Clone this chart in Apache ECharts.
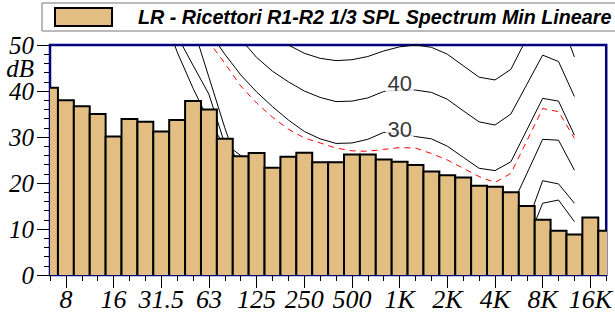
<!DOCTYPE html>
<html><head><meta charset="utf-8">
<script src="https://cdn.jsdelivr.net/npm/echarts@6/dist/echarts.min.js"></script>
<style>html,body{margin:0;padding:0;background:#fff}#c{width:615px;height:322px}</style>
</head><body><div id="c"></div>
<script>
// 1/3 octave bands 6.3 Hz .. 20 kHz
const bandLabels = ['6.3','8','10','12.5','16','20','25','31.5','40','50','63','80','100','125','160','200','250','315','400','500','630','800','1K','1.25K','1.6K','2K','2.5K','3.15K','4K','5K','6.3K','8K','10K','12.5K','16K','20K'];
const tickLabels = ['8','16','31.5','63','125','250','500','1K','2K','4K','8K','16K'];
const seriesName = 'LR - Ricettori R1-R2 1/3 SPL Spectrum Min Lineare';
const levels = [40.7, 38.0, 36.7, 35.0, 30.1, 33.9, 33.3, 31.2, 33.7, 37.8, 36.0, 29.6, 25.8, 26.5, 23.3, 25.7, 26.6, 24.5, 24.5, 26.2, 26.2, 25.1, 24.6, 23.9, 22.5, 21.7, 21.2, 19.4, 19.2, 18.0, 15.0, 12.0, 9.6, 8.8, 12.5, 9.6];
const yTicks = [0, 10, 20, 30, 40, 50];
const yUnit = 'dB';
const yUnitAt = 45;
// equal-loudness style contours, 20 Hz .. 12.5 kHz
const contourFirstBand = '20';
const curve50 = [100, 94, 88, 82, 76, 70, 65, 60.5, 57, 53, 50.0, 48.2, 47.1, 46.6, 46.8, 47.5, 48.7, 49.6, 50.0, 49.5, 48.0, 45.5, 43.0, 42.4, 44.7, 51.5, 57.5, 56.7, 47.4];
const curve40 = [90, 84, 78, 72, 66, 60.5, 55.5, 51.3, 47.3, 44.3, 42.0, 40.0, 38.6, 37.7, 37.8, 38.5, 39.9, 40.2, 40.2, 39.7, 38.2, 35.7, 33.3, 32.6, 35.0, 41.4, 47.8, 46.4, 38.8];
const curve30 = [82, 75, 68.5, 62.5, 57.5, 53, 48.0, 43.5, 39.8, 36.6, 33.7, 31.2, 29.6, 28.6, 28.7, 29.5, 31.0, 30.8, 30.1, 29.6, 28.0, 25.6, 23.2, 22.7, 24.6, 31.5, 38.4, 37.8, 30.4];
const curveRef = [80, 73, 66.5, 60.5, 55.5, 50.7, 46.0, 41.1, 37.4, 34.3, 31.7, 29.8, 28.7, 27.6, 27.0, 26.9, 27.3, 27.7, 27.6, 26.4, 25.0, 23.2, 21.4, 20.1, 22.1, 29.1, 36.2, 35.5, 29.7];
const curve20 = [88, 80, 72, 62, 54, 43.0, 32.0, 22.0, 22.5, 21.5, 21.0, 20.5, 20.0, 19.8, 19.8, 20.0, 20.3, 20.3, 20.5, 19.5, 17.5, 14.5, 12.5, 12.5, 14.6, 22.0, 29.5, 29.3, 22.8];
const curve10 = [84, 74, 62, 52, 45.6, 39.3, 28.5, 26, 22.5, 19, 16, 13.3, 11, 9, 8, 7.5, 7.5, 10, 10.7, 8.5, 5.5, 2.8, 1.2, 1.7, 5, 11, 20.5, 19.8, 15.6];
const curve0 = [76, 67, 58, 48.5, 40.6, 33.5, 28, 23.5, 20, 17, 14, 11.5, 8.6, 6.2, 4.4, 3.0, 2.2, 2.4, 3.5, 1.7, -1.3, -4.2, -6.0, -5.4, -1.5, 7, 15.6, 16.3, 11.6];
const curveLabelTexts = ['40', '30'];
const curveLabelLevels = [40, 30];
const curveLabelBand = '1K';

const start = bandLabels.indexOf(contourFirstBand);
const tickIndex = tickLabels.map(t => bandLabels.indexOf(t));
const toXY = arr => arr.map((v, k) => [k + start, v]);
const lastIdx = bandLabels.length - 1;
const yMax = yTicks[yTicks.length - 1];

const serif = 'Liberation Serif';
const sans = 'Liberation Sans';
const barFill = '#E3BE82';
const yLabelStyle = { fontFamily: serif, fontStyle: 'italic', fontSize: 25, lineHeight: 20, color: '#000', margin: 16 };

function contour(data, dashed) {
  return {
    type: 'line', data: toXY(data), xAxisIndex: 0, yAxisIndex: 0,
    showSymbol: false, symbol: 'none', clip: true, silent: true, z: 2,
    lineStyle: dashed ? { color: '#ff0000', width: 1, type: [6, 5] } : { color: '#000', width: 1 }
  };
}
function labelAxis(values, fmt) {
  return {
    type: 'value', min: 0, max: yMax, position: 'left',
    axisLine: { show: false }, splitLine: { show: false }, axisTick: { show: false },
    axisLabel: Object.assign({ show: true, customValues: values, formatter: fmt }, yLabelStyle)
  };
}

const chart = echarts.init(document.getElementById('c'), null, { renderer: 'svg' });
chart.setOption({
  animation: false,
  backgroundColor: '#fff',
  legend: {
    data: [seriesName], left: 42, top: 3, padding: [4, 60, 4, 12],
    itemWidth: 57, itemHeight: 18, icon: 'rect', selectedMode: false,
    borderColor: '#777', borderWidth: 1, backgroundColor: '#fff',
    itemStyle: { color: barFill, borderColor: '#000', borderWidth: 2 },
    textStyle: { fontFamily: sans, fontWeight: 'bold', fontStyle: 'italic', fontSize: 19.7, color: '#000', padding: [0, 0, 0, 21] }
  },
  grid: { left: 50, right: 3.5, top: 45, bottom: 47, show: true, borderColor: '#000080', borderWidth: 2.5, backgroundColor: 'transparent' },
  xAxis: [{
    type: 'value', min: 0, max: lastIdx, interval: 1, position: 'bottom',
    axisLine: { show: false }, splitLine: { show: false },
    axisTick: { show: true, length: 6, lineStyle: { color: '#000', width: 1 } },
    axisLabel: {
      customValues: tickIndex, formatter: function (v) { return tickLabels[tickIndex.indexOf(Number(v))]; },
      fontFamily: serif, fontStyle: 'italic', fontSize: 26, color: '#000', margin: 11, hideOverlap: false
    }
  }, {
    type: 'value', min: 0, max: lastIdx, position: 'bottom',
    axisLine: { show: false }, splitLine: { show: false }, axisLabel: { show: false },
    axisTick: { show: true, customValues: tickIndex, length: 13, lineStyle: { color: '#000', width: 1 } }
  }],
  yAxis: [{
    type: 'value', min: 0, max: yMax, interval: 10, position: 'left',
    axisLine: { show: false }, splitLine: { show: false },
    axisTick: { show: true, length: 13, lineStyle: { color: '#000', width: 1 } },
    minorTick: { show: true, splitNumber: 5, length: 6, lineStyle: { color: '#000', width: 1 } },
    axisLabel: Object.assign({ show: true, customValues: yTicks.slice(0, -1), formatter: function (v) { return String(v); } }, yLabelStyle)
  },
    labelAxis([yUnitAt], function () { return yUnit; }),
    labelAxis([yMax], function (v) { return String(v); })
  ],
  series: [
    contour(curve50), contour(curve40), contour(curve30), contour(curveRef, true),
    contour(curve20), contour(curve10), contour(curve0),
    {
      type: 'custom', name: seriesName, data: levels.map((v, i) => [i, v]),
      encode: { x: 0, y: 1 }, clip: true, z: 3, silent: true,
      itemStyle: { color: barFill, borderColor: '#000', borderWidth: 2 },
      renderItem: (params, api) => {
        const i = api.value(0), v = api.value(1);
        const a = api.coord([i - 0.5, v]);
        const b = api.coord([i + 0.5, 0]);
        return {
          type: 'group', children: [
            { type: 'rect', shape: { x: a[0], y: a[1], width: b[0] - a[0], height: b[1] - a[1] }, style: { fill: barFill } },
            { type: 'polyline', shape: { points: [[a[0], b[1]], [a[0], a[1]], [b[0], a[1]], [b[0], b[1]]] }, style: { stroke: '#000', lineWidth: 2, fill: null } }
          ]
        };
      }
    },
    {
      type: 'scatter', silent: true, z: 4, symbol: 'rect', symbolSize: 1,
      itemStyle: { color: 'rgba(0,0,0,0)' },
      data: curveLabelTexts.map((t, k) => [bandLabels.indexOf(curveLabelBand), curveLabelLevels[k], t]),
      label: {
        show: true, position: 'inside', offset: [0, -8], formatter: p => p.value[2],
        fontFamily: sans, fontSize: 22, color: '#000', backgroundColor: '#fff', padding: [1, 2, 1, 2]
      }
    }
  ]
});
</script></body></html>
